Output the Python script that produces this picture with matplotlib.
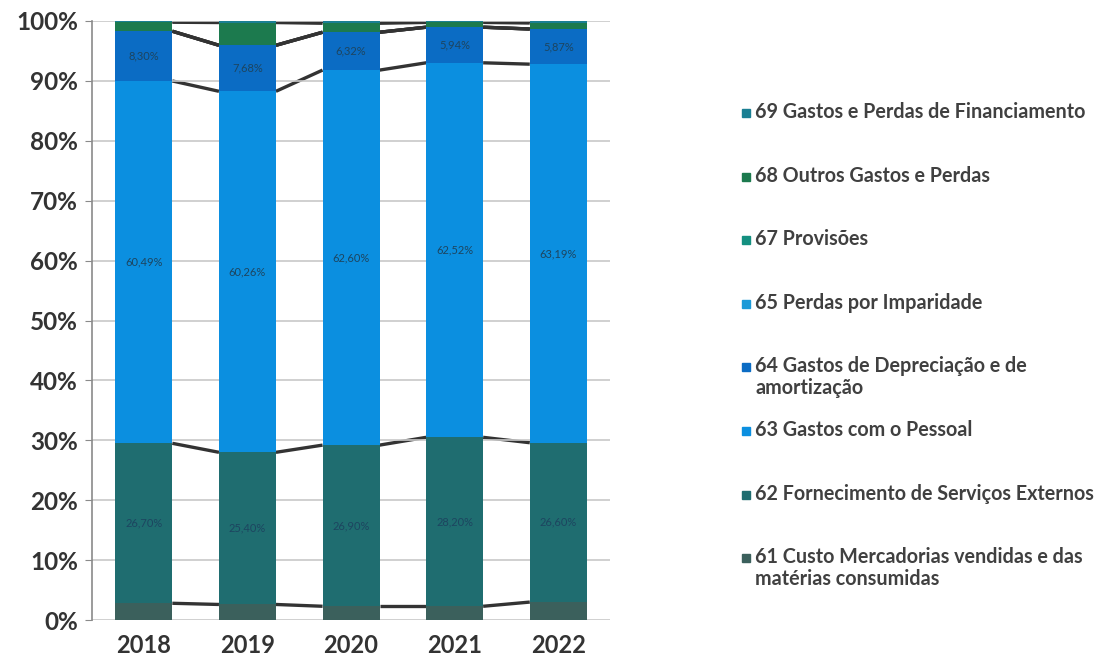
import numpy as np
import matplotlib
matplotlib.use("Agg")
import matplotlib.pyplot as plt
from matplotlib.patches import Rectangle
from matplotlib.ticker import PercentFormatter

plt.rcParams['font.family'] = ['Lato', 'DejaVu Sans']

anos = ['2018', '2019', '2020', '2021', '2022']

# peso de cada conta no total de gastos (%)
c61 = [2.80, 2.60, 2.30, 2.30, 3.00]
c62 = [26.70, 25.40, 26.90, 28.20, 26.60]
c63 = [60.49, 60.26, 62.60, 62.52, 63.19]
c64 = [8.30, 7.68, 6.32, 5.94, 5.87]
c65 = [0.00, 0.00, 0.00, 0.00, 0.00]
c67 = [0.00, 0.00, 0.00, 0.00, 0.00]
c68 = [1.50, 3.80, 1.50, 0.80, 1.00]
c69 = [0.21, 0.26, 0.38, 0.24, 0.34]

nomes = ['61 Custo Mercadorias vendidas e das\nmatérias consumidas',
         '62 Fornecimento de Serviços Externos',
         '63 Gastos com o Pessoal',
         '64 Gastos de Depreciação e de\namortização',
         '65 Perdas por Imparidade',
         '67 Provisões',
         '68 Outros Gastos e Perdas',
         '69 Gastos e Perdas de Financiamento']
series = [c61, c62, c63, c64, c65, c67, c68, c69]
cores = ['#3b605c', '#1f6d70', '#0b8fe0', '#0b6cc4', '#1b9ad8',
         '#149080', '#1c7a4e', '#1a7f93']
com_rotulo = [False, True, True, True, False, False, False, False]

fig = plt.figure(figsize=(11.01, 6.66), dpi=100)
ax = fig.add_axes([0.0836, 0.069, 0.4705, 0.8995])

x = np.arange(len(anos))
larg = 0.55
base = np.zeros(len(anos))
for vals, cor, rot in zip(series, cores, com_rotulo):
    v = np.array(vals) / 100
    ax.bar(x, v, larg, bottom=base, color=cor, zorder=2)
    if rot:
        for xi, b, vi in zip(x, base, v):
            ax.text(xi, b + vi / 2, f'{vi*100:.2f}%'.replace('.', ','),
                    ha='center', va='center', fontsize=8, color='#1d4560',
                    zorder=3)
    base = base + v
    # linhas de série entre colunas
    for i in range(len(anos) - 1):
        ax.plot([x[i] + larg / 2, x[i + 1] - larg / 2], [base[i], base[i + 1]],
                color='#333333', lw=2.4, zorder=1.5, solid_capstyle='butt')

ax.set_xlim(-0.5, len(anos) - 0.5)
ax.set_ylim(0, 1)
ax.set_yticks(np.linspace(0, 1, 11))
ax.yaxis.set_major_formatter(PercentFormatter(1.0, decimals=0))
ax.set_xticks(x)
ax.set_xticklabels(anos)
ax.grid(axis='y', color='#c8c8c8', lw=1.2, zorder=0)
for s in ['top', 'right', 'bottom']:
    ax.spines[s].set_visible(False)
ax.spines['left'].set_color('#8a8a8a')
ax.spines['left'].set_linewidth(1.2)
ax.tick_params(axis='y', length=5, color='#8a8a8a', labelsize=17.5,
               labelcolor='#333333', pad=5)
ax.tick_params(axis='x', length=0, labelsize=17, labelcolor='#333333', pad=10)
for t in ax.get_xticklabels() + ax.get_yticklabels():
    t.set_fontweight('bold')

# legenda à direita, de 69 para 61
W, H = 1101, 666
y0, passo = 113, 63.6
for k, (nome, cor) in enumerate(zip(nomes[::-1], cores[::-1])):
    yc = y0 + k * passo
    fig.add_artist(Rectangle((742 / W, 1 - (yc + 4) / H), 8 / W, 8 / H,
                             transform=fig.transFigure, color=cor))
    fig.text(755 / W, 1 - (yc - 11) / H, nome, ha='left', va='top',
             fontsize=14.2, fontweight='bold', color='#404040',
             linespacing=1.1)

fig.savefig('out.png', dpi=100)
